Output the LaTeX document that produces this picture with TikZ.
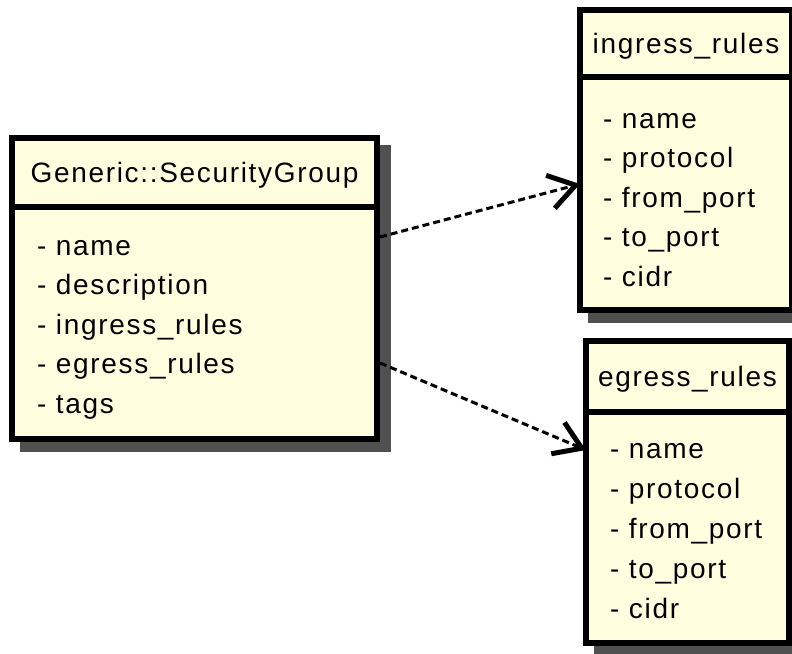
\documentclass[tikz,border=0pt]{standalone}
\usepackage{fontspec}
\setmainfont{Liberation Sans}[LetterSpace=6]
\usetikzlibrary{arrows.meta,calc}
\definecolor{classfill}{HTML}{FFFFE0}
\definecolor{shadowgray}{HTML}{505050}
\pgfdeclarelayer{shadowlayer}
\pgfsetlayers{shadowlayer,main}
\begin{document}
\begin{tikzpicture}[x=1pt, y=-1pt,
  classpart/.style={draw, line width=6pt, fill=classfill, rectangle,
    inner sep=0pt, outer sep=0pt, anchor=north west},
  titletext/.style={font=\fontsize{28}{34}\selectfont, inner sep=0pt, anchor=base},
  attrtext/.style={font=\fontsize{28}{34}\selectfont, inner sep=0pt, anchor=base west},
  depend/.style={line width=3pt, dash pattern=on 7pt off 4pt,
    -{Straight Barb[length=26pt,width=34pt,line width=5pt]}}]
\useasboundingbox (0,0) rectangle (792,653);

% Generic::SecurityGroup class
\node[classpart, minimum width=365pt, minimum height=69pt] (sgh) at (12,138) {};
\node[classpart, minimum width=365pt, minimum height=232pt] (sgb) at (12,207) {};
\node[titletext] (sgt) at ($(sgh.center)+(0,10)$) {Generic::SecurityGroup};
\foreach \t [count=\i] in {name, description, ingress\_rules, egress\_rules, tags}
  \node[attrtext] (sg-\i) at ($(sgb.north west)+(25,48+39.6*\i-39.6)$) {- \t};

% ingress_rules class
\node[classpart, minimum width=212pt, minimum height=67pt] (inh) at (580,10) {};
\node[classpart, minimum width=212pt, minimum height=233pt] (inb) at (580,77) {};
\node[titletext] (int) at ($(inh.center)+(0,10)$) {ingress\_rules};
\foreach \t [count=\i] in {name, protocol, from\_port, to\_port, cidr}
  \node[attrtext] (in-\i) at ($(inb.north west)+(23,51+39.6*\i-39.6)$) {- \t};

% egress_rules class
\node[classpart, minimum width=203pt, minimum height=71pt] (egh) at (586,341) {};
\node[classpart, minimum width=203pt, minimum height=231pt] (egb) at (586,412) {};
\node[titletext] (egt) at ($(egh.center)+(0,10)$) {egress\_rules};
\foreach \t [count=\i] in {name, protocol, from\_port, to\_port, cidr}
  \node[attrtext] (eg-\i) at ($(egb.north west)+(24,46+40*\i-40)$) {- \t};

% drop shadows behind each class
\begin{pgfonlayer}{shadowlayer}
  \fill[shadowgray] ($(sgh.north west)+(8,7)$) rectangle ($(sgb.south east)+(14,13)$);
  \fill[shadowgray] ($(inh.north west)+(8,7)$) rectangle ($(inb.south east)+(14,13)$);
  \fill[shadowgray] ($(egh.north west)+(8,7)$) rectangle ($(egb.south east)+(14,13)$);
\end{pgfonlayer}

% dependencies
\coordinate (inFrom) at ($(sgb.north east)+(3,30)$);
\coordinate (inTo) at ($(inb.north west)+(0,107)$);
\coordinate (egFrom) at ($(sgb.north east)+(3,156)$);
\coordinate (egTo) at ($(egb.north west)+(0,38)$);
\draw[depend] (inFrom) -- (inTo);
\draw[depend] (egFrom) -- (egTo);
\end{tikzpicture}
\end{document}
